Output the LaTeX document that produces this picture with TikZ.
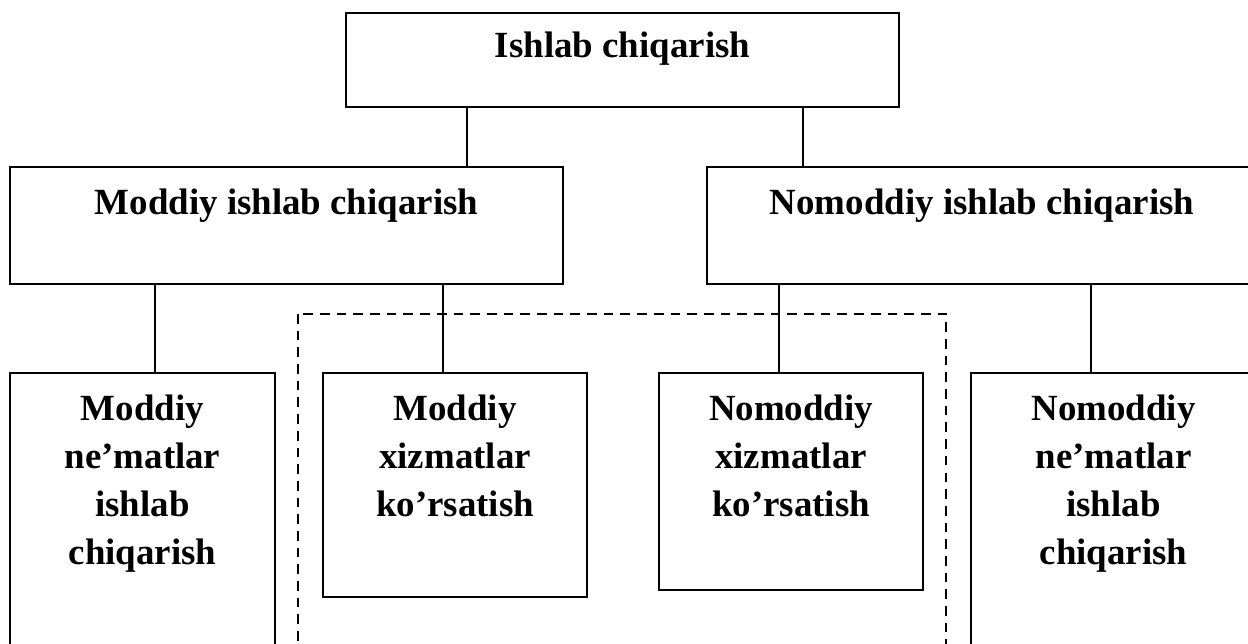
\documentclass[tikz,border=0pt]{standalone}
\usepackage{fontspec}
\setmainfont{Liberation Serif}
\begin{document}
\begin{tikzpicture}[x=0.02cm,y=-0.02cm,
  box/.style={draw,line width=1.3pt,rectangle,anchor=north west,inner sep=0pt,outer sep=0pt},
  txt/.style={anchor=north,inner sep=0pt,align=center,font=\bfseries\fontsize{21}{27.2}\selectfont},
  link/.style={line width=1.2pt},
  dashbox/.style={line width=1.35pt,dash pattern=on 5.5pt off 4pt}]
\useasboundingbox (0,0) rectangle (1248,643);
\clip (0,0) rectangle (1248,643);
% boxes
\node[box,minimum width=553*0.02cm,minimum height=94*0.02cm] (top) at (346,13) {};
\node[box,minimum width=553*0.02cm,minimum height=117*0.02cm] (mod) at (10,167) {};
\node[box,minimum width=550*0.02cm,minimum height=117*0.02cm] (nom) at (707,167) {};
\node[box,minimum width=265*0.02cm,minimum height=300*0.02cm] (b1) at (10,373) {};
\node[box,minimum width=264*0.02cm,minimum height=224*0.02cm] (b2) at (323,373) {};
\node[box,minimum width=264*0.02cm,minimum height=217*0.02cm] (b3) at (659,373) {};
\node[box,minimum width=285*0.02cm,minimum height=300*0.02cm] (b4) at (971,373) {};
% texts
\node[txt,yshift=-19*0.02cm] (ttop) at (top.north) {Ishlab chiqarish};
\node[txt,yshift=-22*0.02cm] (tmod) at (mod.north) {Moddiy ishlab chiqarish};
\node[txt,yshift=-22*0.02cm] (tnom) at (nom.north) {Nomoddiy ishlab chiqarish};
\node[txt,yshift=-22*0.02cm] (tb1) at (b1.north) {Moddiy\\ne’matlar\\ishlab\\chiqarish};
\node[txt,yshift=-22*0.02cm] (tb2) at (b2.north) {Moddiy\\xizmatlar\\ko’rsatish};
\node[txt,yshift=-22*0.02cm] (tb3) at (b3.north) {Nomoddiy\\xizmatlar\\ko’rsatish};
\node[txt,yshift=-22*0.02cm] (tb4) at (b4.north) {Nomoddiy\\ne’matlar\\ishlab\\chiqarish};
% dashed frame
\coordinate (dtl) at (298,314);
\coordinate (dbr) at (946,700);
\draw[dashbox] (dtl) rectangle (dbr);
% connectors
\draw[link] (top.south -| 467,0) -- (mod.north -| 467,0);
\draw[link] (top.south -| 803,0) -- (nom.north -| 803,0);
\draw[link] (mod.south -| 155,0) -- (b1.north -| 155,0);
\draw[link] (mod.south -| 443,0) -- (b2.north -| 443,0);
\draw[link] (nom.south -| 779,0) -- (b3.north -| 779,0);
\draw[link] (nom.south -| 1091,0) -- (b4.north -| 1091,0);
\end{tikzpicture}
\end{document}
